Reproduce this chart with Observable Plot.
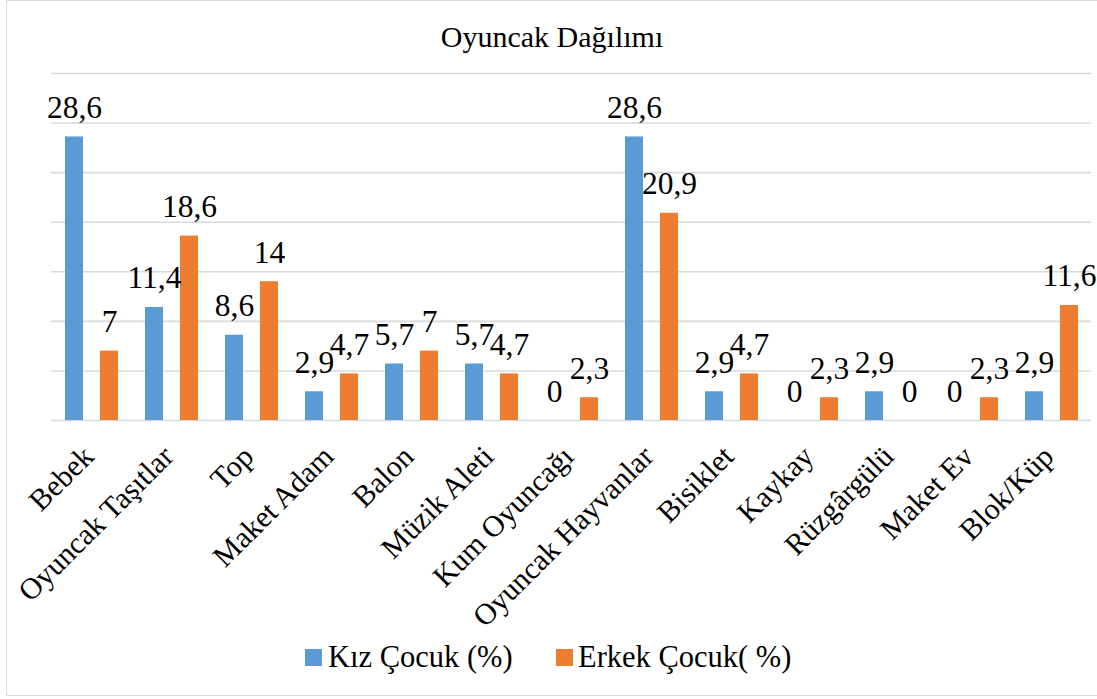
<!DOCTYPE html>
<html>
<head>
<meta charset="utf-8">
<script src="https://cdn.jsdelivr.net/npm/d3@7"></script>
<script src="https://cdn.jsdelivr.net/npm/@observablehq/plot@0.6"></script>
<style>
  html, body { margin: 0; padding: 0; background: #fff; }
  #wrap { position: relative; width: 1097px; height: 699px; overflow: hidden; font-family: "Liberation Serif", "Tinos", "Times New Roman", "DejaVu Serif", serif; color: #000; }
  #frame { position: absolute; left: 6px; top: 0px; width: 1100px; height: 696px; border: 1.5px solid #d9d9d9; box-sizing: border-box; }
  #title { position: absolute; left: 0; width: 1104px; top: 22px; text-align: center; font-size: 30px; line-height: 30px; white-space: nowrap; }
  #chart { position: absolute; left: 0; top: 60px; }
  .leg { position: absolute; top: 642px; font-size: 30.5px; line-height: 30.5px; white-space: nowrap; }
  .sw { position: absolute; width: 17px; height: 17px; top: 649px; }
</style>
</head>
<body>
<div id="wrap">
  <div id="frame"></div>
  <div id="title"></div>
  <div id="chart"></div>
  <div id="legend"></div>
</div>
<script>
const titleText = "Oyuncak Dağılımı";
const categories = ["Bebek", "Oyuncak Taşıtlar", "Top", "Maket Adam", "Balon", "Müzik Aleti", "Kum Oyuncağı", "Oyuncak Hayvanlar", "Bisiklet", "Kaykay", "Rüzgârgülü", "Maket Ev", "Blok/Küp"];
const kizValues = [28.6, 11.4, 8.6, 2.9, 5.7, 5.7, 0, 28.6, 2.9, 0, 2.9, 0, 2.9];
const erkekValues = [7, 18.6, 14, 4.7, 7, 4.7, 2.3, 20.9, 4.7, 2.3, 0, 2.3, 11.6];
const seriesNames = ["Kız Çocuk (%)", "Erkek Çocuk( %)"];
const seriesColors = ["#5B9BD5", "#ED7D31"];
const gridTicks = [0, 5, 10, 15, 20, 25, 30, 35];

const data = categories.flatMap((c, i) => [
  {cat: c, series: seriesNames[0], value: kizValues[i]},
  {cat: c, series: seriesNames[1], value: erkekValues[i]}
]);

document.getElementById("title").textContent = titleText;

const chart = Plot.plot({
  width: 1097,
  height: 590,
  marginTop: 13,
  marginBottom: 230,
  marginLeft: 50,
  marginRight: 5,
  style: {fontFamily: "'Liberation Serif', Tinos, 'Times New Roman', 'DejaVu Serif', serif", color: "#000", background: "transparent", overflow: "visible"},
  fx: {domain: categories, padding: 0, label: null},
  x: {domain: seriesNames, paddingInner: 0.49, paddingOuter: 0.38, axis: null},
  y: {domain: [0, 35], axis: null},
  color: {domain: seriesNames, range: seriesColors},
  marks: [
    Plot.ruleY(gridTicks, {stroke: "#d9d9d9", strokeWidth: 1.6}),
    Plot.barY(data, {fx: "cat", x: "series", y: "value", fill: "series"}),
    Plot.text(data, {fx: "cat", x: "series", y: "value", text: d => String(d.value).replace(".", ","), dy: -19, lineAnchor: "bottom", fontSize: 31.5, fill: "#000"}),
    Plot.axisFx({anchor: "bottom", tickRotate: -45, tickSize: 0, tickPadding: 0, fontSize: 30, dx: -3, dy: 31, label: null})
  ]
});
document.getElementById("chart").appendChild(chart);

const legend = document.getElementById("legend");
const legPos = [{sw: 305, tx: 328}, {sw: 556, tx: 578}];
seriesNames.forEach((name, i) => {
  const sw = document.createElement("div");
  sw.className = "sw";
  sw.style.left = legPos[i].sw + "px";
  sw.style.background = seriesColors[i];
  legend.appendChild(sw);
  const t = document.createElement("div");
  t.className = "leg";
  t.style.left = legPos[i].tx + "px";
  t.textContent = name;
  legend.appendChild(t);
});
</script>
</body>
</html>
